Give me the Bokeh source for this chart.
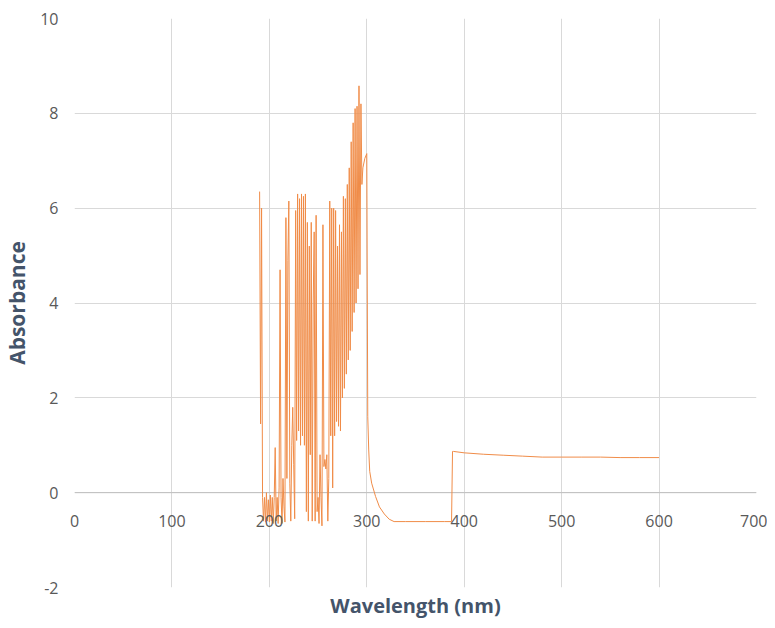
from bokeh.plotting import figure
from bokeh.models import Range1d, FixedTicker, Title, Span
from bokeh.embed import file_html
from bokeh.resources import INLINE

# Wavelength (nm) and absorbance
wavelength = [
    190, 191, 192, 193, 194, 195, 196, 197, 198, 199,
    200, 201, 202, 203, 204, 205, 206, 207, 208, 209,
    210, 211, 212, 213, 214, 215, 216, 217, 218, 219,
    220, 221, 222, 223, 224, 225, 226, 227, 228, 229,
    230, 231, 232, 233, 234, 235, 236, 237, 238, 239,
    240, 241, 242, 243, 244, 245, 246, 247, 248, 249,
    250, 251, 252, 253, 254, 255, 256, 257, 258, 259,
    260, 261, 262, 263, 264, 265, 266, 267, 268, 269,
    270, 271, 272, 273, 274, 275, 276, 277, 278, 279,
    280, 281, 282, 283, 284, 285, 286, 287, 288, 289,
    290, 291, 292, 293, 294, 295, 296, 298, 300, 301,
    302, 303, 305, 309, 313, 318, 323, 328, 340, 360,
    380, 387, 388, 389, 400, 420, 440, 460, 480, 500,
    520, 540, 560, 580, 600,
]
absorbance = [
    6.35, 1.45, 6.0, -0.1, -0.6, -0.1, -0.62, 0.0, -0.6, -0.15,
    -0.62, -0.05, -0.6, -0.1, -0.65, -0.1, 0.95, -0.6, -0.1, -0.65,
    0.1, 4.7, -0.1, -0.65, 0.3, -0.3, -0.62, 5.8, 0.3, 4.9,
    6.15, 0.2, -0.6, 1.0, 1.8, 0.6, -0.55, 5.95, 1.1, 6.3,
    1.3, 6.2, 1.0, 6.3, 1.2, 6.25, 1.0, 6.3, -0.4, 5.7,
    -0.6, 5.2, 0.8, 5.7, -0.6, 4.0, 5.5, -0.6, 5.85, -0.4,
    -0.1, -0.65, 0.8, -0.1, -0.7, 5.65, 0.55, 0.7, 0.5, 0.8,
    -0.6, 0.3, 6.15, 1.2, 6.0, 0.1, 6.0, 1.2, 5.95, 1.5,
    5.2, 1.4, 5.65, 1.3, 5.5, 2.0, 6.25, 2.2, 6.2, 2.5,
    6.5, 2.8, 6.85, 3.0, 7.4, 3.4, 7.8, 3.8, 8.1, 4.0,
    8.15, 4.3, 8.58, 4.6, 8.2, 6.5, 6.85, 7.05, 7.15, 1.6,
    0.9, 0.45, 0.2, -0.08, -0.3, -0.45, -0.56, -0.61, -0.61, -0.61,
    -0.61, -0.61, 0.87, 0.87, 0.84, 0.81, 0.79, 0.77, 0.75, 0.75,
    0.75, 0.75, 0.74, 0.74, 0.74,
]

x_ticks = [0, 100, 200, 300, 400, 500, 600, 700]
y_ticks = [-2, 0, 2, 4, 6, 8, 10]
y_tick_labels = {-2: "-2", 0: "0", 2: "2", 4: "4", 6: "6", 8: "8", 10: "10"}
x_title = "Wavelength (nm)"
y_title = "Absorbance"

FONT = "Open Sans"
TICK_COLOR = "#595959"
TITLE_COLOR = "#44546A"
GRID_COLOR = "#D9D9D9"
LINE_COLOR = "#F08C48"

p = figure(
    width=767, height=620,
    x_range=Range1d(0, 700), y_range=Range1d(-2, 10),
    output_backend="svg", toolbar_location=None,
    min_border_left=73, min_border_right=11,
    min_border_top=18, min_border_bottom=32,
)
p.outline_line_color = None
p.background_fill_color = "white"
p.border_fill_color = "white"

# grids
p.xgrid.ticker = FixedTicker(ticks=x_ticks)
p.ygrid.ticker = FixedTicker(ticks=y_ticks)
p.xgrid.grid_line_color = GRID_COLOR
p.ygrid.grid_line_color = GRID_COLOR

# horizontal axis line at y = 0
p.add_layout(Span(location=0, dimension="width", line_color="#BFBFBF",
                  line_width=1, level="underlay"))

p.line(wavelength, absorbance, line_color=LINE_COLOR, line_width=1)

# x axis: labels pulled up to sit under the y = 0 line
xa = p.xaxis[0]
xa.ticker = FixedTicker(ticks=x_ticks)
xa.axis_line_color = None
xa.major_tick_line_color = None
xa.minor_tick_line_color = None
xa.major_tick_out = 0
xa.major_tick_in = 0
xa.major_label_text_font = FONT
xa.major_label_text_font_size = "16px"
xa.major_label_text_color = TICK_COLOR
xa.major_label_standoff = -73

# y axis
ya = p.yaxis[0]
ya.ticker = FixedTicker(ticks=y_ticks)
ya.major_label_overrides = y_tick_labels
ya.axis_line_color = None
ya.major_tick_line_color = None
ya.minor_tick_line_color = None
ya.major_tick_out = 0
ya.major_tick_in = 0
ya.major_label_text_font = FONT
ya.major_label_text_font_size = "16px"
ya.major_label_text_color = TICK_COLOR
ya.major_label_standoff = 16
ya.axis_label = y_title
ya.axis_label_text_font = FONT
ya.axis_label_text_font_size = "21px"
ya.axis_label_text_font_style = "bold"
ya.axis_label_text_color = TITLE_COLOR
ya.axis_label_standoff = 6

p.add_layout(Title(text=x_title, align="center", text_font=FONT,
                   text_font_size="20px", text_font_style="bold",
                   text_color=TITLE_COLOR, standoff=4), "below")

open("out.html", "w").write(file_html(p, INLINE))
